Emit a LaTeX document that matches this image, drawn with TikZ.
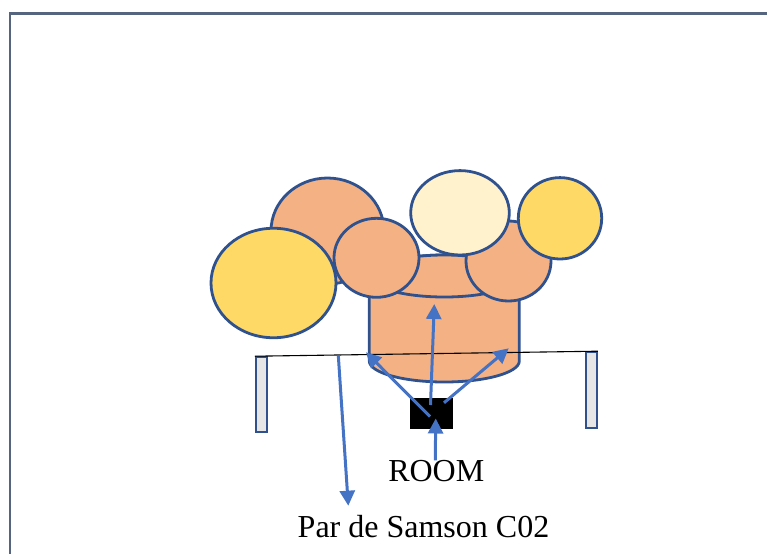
\documentclass[tikz,border=0pt]{standalone}
\usepackage{fontspec}
\setmainfont{Liberation Serif}
\usetikzlibrary{shapes.geometric,arrows.meta}
\definecolor{orng}{HTML}{F4B183}
\definecolor{yllw}{HTML}{FFD966}
\definecolor{crm}{HTML}{FFF2CC}
\definecolor{edgeblue}{HTML}{2F528F}
\definecolor{arrblue}{HTML}{4472C4}
\definecolor{frm}{HTML}{56657F}
\definecolor{postgray}{HTML}{E6E6E6}
\begin{document}
\begin{tikzpicture}[x=1pt,y=-1pt,
  blob/.style={ellipse,draw=edgeblue,line width=2.8pt,inner sep=0pt},
  post/.style={rectangle,draw=edgeblue,fill=postgray,line width=2.2pt,inner sep=0pt,minimum width=11pt,minimum height=75pt},
  arr/.style={draw=arrblue,line width=3pt,-{Triangle[length=15pt,width=15pt]}},
  lbl/.style={inner sep=0pt,font=\fontsize{32}{38}\selectfont}]
\useasboundingbox (0,0) rectangle (767,554);
% frame
\draw[frm,line width=2.4pt] (9.8,554) -- (9.8,13.5) -- (767,13.5);
% back shapes
\node[blob,fill=orng,minimum width=113pt,minimum height=106pt] (bigor) at (327.5,231) {};
\node[blob,fill=yllw,minimum width=125pt,minimum height=109.5pt] (ylleft) at (273.5,283) {};
% cylinder
\filldraw[fill=orng,draw=edgeblue,line width=2.8pt,line join=round]
  (369.3,276) -- (369.3,361) arc[start angle=180,end angle=0,x radius=75,y radius=21]
  -- (519.3,276) arc[start angle=0,end angle=-180,x radius=75,y radius=21] -- cycle;
\node[blob,fill=orng,minimum width=150pt,minimum height=42pt] (cyltop) at (444.3,276) {};
% front shapes
\node[blob,fill=orng,minimum width=85pt,minimum height=79pt] (smor) at (376.5,257.8) {};
\node[blob,fill=orng,minimum width=85pt,minimum height=80pt] (rtor) at (508.5,261) {};
\node[blob,fill=crm,minimum width=98.6pt,minimum height=84.4pt] (cream) at (460,212.8) {};
\node[blob,fill=yllw,minimum width=83.4pt,minimum height=81.4pt] (ylright) at (560,218.3) {};
% posts and line
\node[post,minimum height=74.4pt] (postL) at (261.5,394.5) {};
\node[post,minimum height=75.4pt] (postR) at (591.2,390) {};
\draw[black,line width=1.1pt] (postL.north west) -- (postR.north east);
\coordinate (onbar) at (338.3,355.5);
% receiver
\node[rectangle,fill=black,inner sep=0pt,minimum width=42.7pt,minimum height=31pt] (sq) at (431.3,413.8) {};
\coordinate (tv) at (434.3,304);
\coordinate (tl) at (366,352.3);
\coordinate (tr) at (508.7,348.3);
\coordinate (sb) at (435.7,418.5);
% labels
\node[lbl,anchor=base] (room) at (436.3,481.7) {ROOM};
\node[lbl,anchor=base] (par) at (423.5,537) {Par de Samson C02};
\coordinate (partip) at (348.3,505.7);
% arrows
\draw[arr] ([shift={(-0.8pt,8.8pt)}]sq.center) -- (tv);
\draw[arr] ([shift={(-1.3pt,-2.8pt)}]sq.center) -- (tl);
\draw[arr] ([shift={(12.7pt,11pt)}]sq.center) -- (tr);
\draw[arr] (room.north) ++(-1pt,0) -- (sb);
\draw[arr] (onbar) -- (partip);
\end{tikzpicture}
\end{document}
